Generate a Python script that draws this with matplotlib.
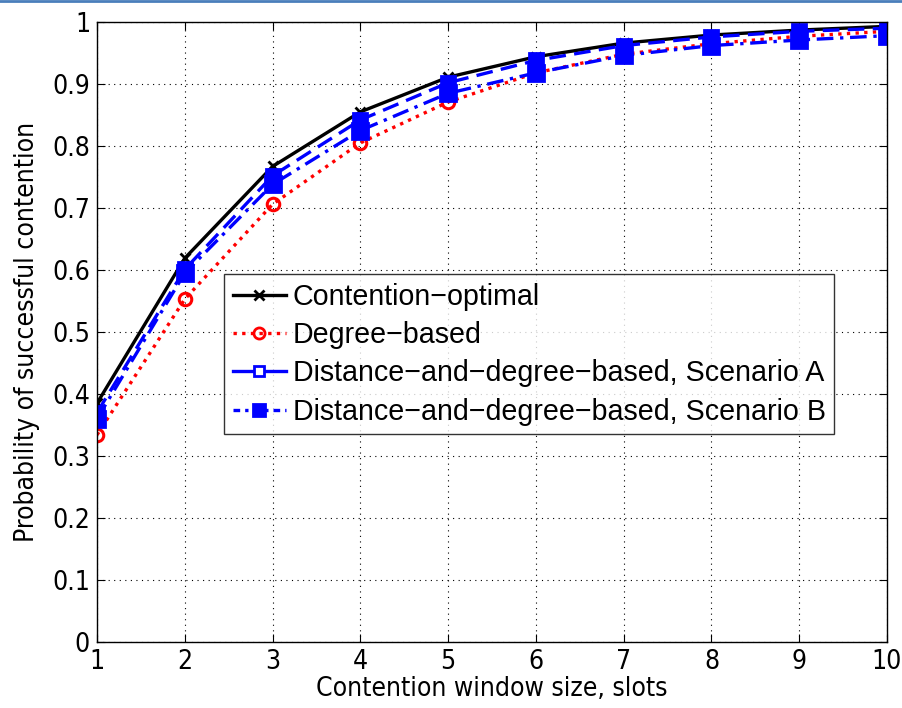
import numpy as np
import matplotlib
matplotlib.use("Agg")
import matplotlib.pyplot as plt
from matplotlib.lines import Line2D

# contention window sizes and success probabilities per scheme
window = [1, 2, 3, 4, 5, 6, 7, 8, 9, 10]
optimal = [0.385, 0.619, 0.767, 0.855, 0.911, 0.944, 0.966, 0.979, 0.987, 0.993]
degree = [0.334, 0.553, 0.706, 0.805, 0.871, 0.918, 0.948, 0.965, 0.977, 0.985]
scen_a = [0.370, 0.601, 0.752, 0.842, 0.902, 0.938, 0.962, 0.976, 0.985, 0.990]
scen_b = [0.360, 0.595, 0.738, 0.825, 0.885, 0.918, 0.946, 0.962, 0.971, 0.978]

labels = ["Contention\u2212optimal", "Degree\u2212based",
          "Distance\u2212and\u2212degree\u2212based, Scenario A",
          "Distance\u2212and\u2212degree\u2212based, Scenario B"]

plt.rcParams['font.family'] = ['DejaVu Sans']
plt.rcParams['font.stretch'] = 'condensed'

fig = plt.figure(figsize=(9.03, 7.08), dpi=100)
ax = fig.add_axes([0.1074, 0.0932, 0.8749, 0.8757])

ax.plot(window, optimal, color='black', lw=2.4, ls='-', marker='x', ms=7, mew=2, label=labels[0])
ax.plot(window, degree, color='red', lw=2.4, ls=(0, (1, 1.6)), marker='o', ms=9, mfc='none', mew=2.2, label=labels[1])
ax.plot(window, scen_a, color='blue', lw=2.4, ls=(0, (5, 2.5)), marker='s', ms=10, mfc='blue', mew=2, label=labels[2])
ax.plot(window, scen_b, color='blue', lw=2.4, ls=(0, (5, 2, 1, 2)), marker='s', ms=11, mfc='blue', mew=2, label=labels[3])

ax.set_xlim(1, 10)
ax.set_ylim(0, 1)
ax.set_xticks(window)
ax.set_yticks(np.arange(0, 1.01, 0.1))
ax.set_yticklabels(['0', '0.1', '0.2', '0.3', '0.4', '0.5', '0.6', '0.7', '0.8', '0.9', '1'])
ax.tick_params(direction='in', labelsize=19, length=6, top=True, right=True, pad=5)
ax.grid(True, color='black', ls=(0, (1, 4)), lw=0.8)
for s in ax.spines.values():
    s.set_linewidth(1.0)

ax.set_xlabel("Contention window size, slots", fontsize=19, labelpad=1)
ax.set_ylabel("Probability of successful contention", fontsize=19, labelpad=9)

# legend handles: square markers shown with a small white centre for scenario A
handles = [
    Line2D([], [], color='black', lw=2.4, marker='x', ms=7, mew=2),
    Line2D([], [], color='red', lw=2.4, ls=(0, (1, 1.6)), marker='o', ms=8, mfc='none', mew=2),
    Line2D([], [], color='blue', lw=2.4, marker='s', ms=7, mfc='white', mew=2),
    Line2D([], [], color='blue', lw=2.4, ls=(0, (2, 1.5, 1, 1.5)), marker='s', ms=9, mfc='blue', mew=2),
]
leg = ax.legend(handles, labels, loc='lower left', bbox_to_anchor=(0.161, 0.335),
                borderaxespad=0, frameon=True, fancybox=False, edgecolor='black',
                handlelength=1.85, handletextpad=0.25, borderpad=0.3, labelspacing=0.36,
                prop={'family': ['Liberation Sans', 'DejaVu Sans'], 'size': 20.6, 'stretch': 'normal'})
leg.get_frame().set_linewidth(1.0)

# thin blue rule along the top edge
fig.add_artist(Line2D([0, 1], [0.998, 0.998], color='#4a7ebb', lw=2, transform=fig.transFigure))

fig.savefig("out.png", dpi=100)
